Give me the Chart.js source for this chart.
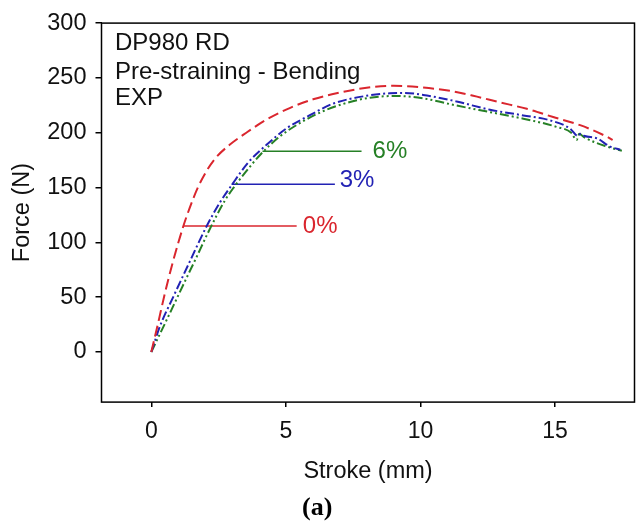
<!DOCTYPE html>
<html>
<head>
<meta charset="utf-8">
<script src="https://cdn.jsdelivr.net/npm/chart.js@4"></script>
<style>
  html, body { margin: 0; padding: 0; background: #fff; }
  #wrap { width: 637px; height: 525px; }
</style>
</head>
<body>
<div id="wrap"><canvas id="c" width="637" height="525"></canvas></div>
<script>
// ---- data ----
const strokeRed = [0, 0.25, 0.49, 0.80, 1.18, 1.42, 1.73, 2.05, 2.39, 2.91, 3.53, 4.28, 5.14, 6.01, 6.88, 8.0, 9.0, 10.1, 11.09, 11.96, 12.95, 13.95, 14.93, 15.93, 16.92, 17.14];
const forceRed  = [0, 26, 52, 82, 114, 131, 150, 165, 177, 189, 200, 212, 222.5, 230.5, 236, 241, 242.8, 241.2, 238.2, 233.7, 227.7, 221.8, 214.3, 206.9, 196.4, 193.4];

const strokeBlue = [0, 0.33, 0.83, 1.42, 2.05, 2.54, 2.98, 3.59, 4.28, 5.02, 5.89, 6.75, 8.0, 8.86, 9.4, 10.1, 11.34, 12.58, 13.82, 14.81, 15.55, 15.85, 15.95, 16.1, 16.55, 17.04, 17.42];
const forceBlue  = [0, 24, 51, 82, 114.5, 136, 152, 172.6, 189, 203.9, 216, 226.5, 233.7, 236, 236.3, 234.5, 228.5, 221, 215.8, 211.3, 203.9, 197, 199, 197, 194.9, 187.4, 184.5];

const strokeGreen = [0, 0.74, 1.24, 1.67, 2.17, 2.73, 3.06, 3.5, 4.03, 4.77, 5.64, 6.51, 7.13, 8.12, 9.11, 10.1, 11.34, 12.58, 13.82, 15.06, 15.6, 15.8, 15.9, 16.07, 16.92, 17.48];
const forceGreen  = [0, 38, 64, 86, 112, 138, 150, 164, 179.5, 196.5, 210.5, 221, 226.3, 232, 233.5, 231.3, 224.8, 218.8, 212.8, 205.3, 200, 193.4, 199, 196, 187.4, 183.6];

// pre-strain marker lines (start x, end x, force level) and labels
const markerNames  = ['0%', '3%', '6%'];
const markerStartX = [1.21, 2.98, 4.13];
const markerEndX   = [5.40, 6.82, 7.81];
const markerForce  = [114.9, 153.1, 183.0];
const labelX       = [5.63, 7.00, 8.22];
const labelY       = [114.6, 156.5, 183.2];

const infoLines = ['DP980 RD', 'Pre-straining - Bending', 'EXP'];

const xTicks = [0, 5, 10, 15];
const yTicks = [0, 50, 100, 150, 200, 250, 300];

// ---- styles ----
const RED = 'rgb(218,38,46)';
const BLUE = 'rgb(34,34,180)';
const GREEN = 'rgb(38,128,38)';
const markerColors = [RED, BLUE, GREEN];

const toXY = (xs, ys) => xs.map((x, i) => ({x, y: ys[i]}));

const datasets = [
  { data: toXY(strokeRed, forceRed), borderColor: RED, borderWidth: 2, borderDash: [11, 5], cubicInterpolationMode: 'monotone' },
  { data: toXY(strokeBlue, forceBlue), borderColor: BLUE, borderWidth: 2, borderDash: [9, 3, 2, 3], cubicInterpolationMode: 'monotone' },
  { data: toXY(strokeGreen, forceGreen), borderColor: GREEN, borderWidth: 2, borderDash: [9, 3, 2, 3, 2, 3], cubicInterpolationMode: 'monotone' }
];
markerNames.forEach((n, i) => {
  datasets.push({
    data: [{x: markerStartX[i], y: markerForce[i]}, {x: markerEndX[i], y: markerForce[i]}],
    borderColor: markerColors[i], borderWidth: 1.5, tension: 0
  });
});
datasets.forEach(d => { d.pointRadius = 0; d.fill = false; });

const SANS = "'Liberation Sans', Arial, sans-serif";

const framePlugin = {
  id: 'frame',
  afterDatasetsDraw(chart) {
    const {ctx, chartArea: a, scales} = chart;
    ctx.save();
    ctx.strokeStyle = '#000';
    ctx.lineWidth = 1.5;
    ctx.strokeRect(a.left, a.top, a.right - a.left, a.bottom - a.top);
    // marker labels
    ctx.font = '24px ' + SANS;
    ctx.textAlign = 'left';
    ctx.textBaseline = 'middle';
    markerNames.forEach((n, i) => {
      ctx.fillStyle = markerColors[i];
      ctx.fillText(n, scales.x.getPixelForValue(labelX[i]), scales.y.getPixelForValue(labelY[i]));
    });
    // info text
    ctx.fillStyle = '#111';
    ctx.textBaseline = 'alphabetic';
    const offs = [27.3, 55.7, 82.3];
    infoLines.forEach((t, i) => ctx.fillText(t, a.left + 13.5, a.top + offs[i]));
    ctx.restore();
  }
};

new Chart(document.getElementById('c'), {
  type: 'line',
  data: { datasets },
  options: {
    responsive: false,
    animation: false,
    devicePixelRatio: 1,
    layout: { padding: { left: 0, right: 2.5, top: 16, bottom: 0 } },
    plugins: {
      legend: { display: false },
      tooltip: { enabled: false },
      subtitle: {
        display: true, position: 'bottom', text: '(a)', color: '#000',
        font: { family: "'Liberation Serif', 'Times New Roman', serif", size: 26, weight: 'bold', lineHeight: 1.15 },
        padding: { top: 0, bottom: 2 }
      }
    },
    scales: {
      x: {
        type: 'linear', min: -1.85, max: 17.95,
        afterBuildTicks: s => { s.ticks = xTicks.map(v => ({value: v})); },
        afterFit: s => { s.height = 91; },
        border: { display: false },
        grid: { display: true, drawOnChartArea: false, drawTicks: true, tickLength: 5, color: '#000', lineWidth: 1.5 },
        ticks: { color: '#111', font: { family: SANS, size: 23 }, padding: 11, maxRotation: 0 },
        title: { display: true, text: 'Stroke (mm)', color: '#111', font: { family: SANS, size: 23.5 }, padding: { top: 0, bottom: 7 } }
      },
      y: {
        type: 'linear', min: -45.7, max: 300,
        afterBuildTicks: s => { s.ticks = yTicks.map(v => ({value: v})); },
        afterFit: s => { s.width = 101.5; },
        border: { display: false },
        grid: { display: true, drawOnChartArea: false, drawTicks: true, tickLength: 6, color: '#000', lineWidth: 1.5 },
        ticks: { color: '#111', font: { family: SANS, size: 23.5 }, padding: 9 },
        title: { display: true, text: 'Force (N)', color: '#111', font: { family: SANS, size: 23.5 }, padding: { top: 8, bottom: 0 } }
      }
    }
  },
  plugins: [framePlugin]
});
</script>
</body>
</html>
